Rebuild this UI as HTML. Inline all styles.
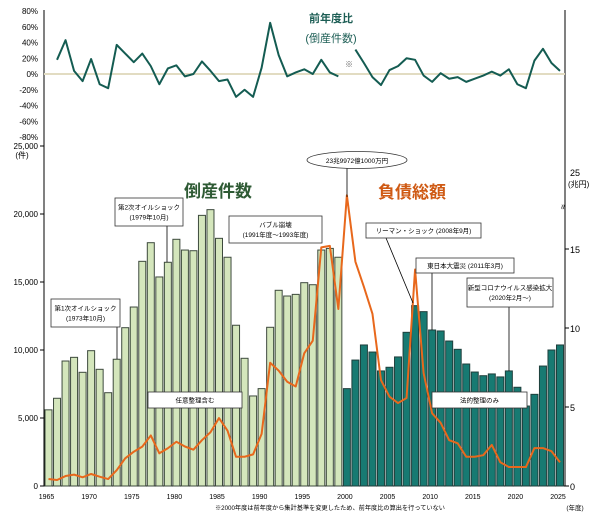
<!DOCTYPE html>
<html><head><meta charset="utf-8"><style>
body{margin:0;background:#fff;width:600px;height:520px;overflow:hidden}
svg{display:block;font-family:"Liberation Sans","Noto Sans CJK JP",sans-serif}
</style></head><body>
<svg id="c" width="600" height="520"></svg>
<script>
const years=[];for(let y=1965;y<=2025;y++)years.push(y);
const counts=[5600,6450,9190,9460,8360,9950,8580,6860,9320,11640,13160,16520,17890,15370,16450,18140,17350,17300,19900,20320,18210,16820,11820,9390,6620,7160,11670,14390,13970,14090,14950,14800,17350,17470,16820,7160,9260,10370,9850,8460,8730,9490,11300,13260,12820,11470,11400,10660,10050,8970,8380,8110,8240,8020,8460,7260,5880,6740,8820,10000,10370];
const debt=[0.44,0.38,0.63,0.72,0.55,0.76,0.59,0.44,1.0,1.75,2.17,2.49,3.2,2.07,2.39,2.8,2.5,2.3,2.9,3.4,4.3,3.5,1.85,1.85,2.0,3.3,7.8,7.3,6.6,6.3,8.4,9.2,15.1,15.2,11.2,23.99,14.2,12.6,10.9,6.7,5.65,5.25,5.57,13.7,7.15,4.6,4.0,2.9,2.7,1.85,1.85,1.95,2.6,1.5,1.2,1.2,1.2,2.4,2.4,2.2,1.5];
const pct=[null,18,43,4,-9,19,-13,-18,37,26,15,26,10,-13,7,11,-3,0,16,4,-9,-7,-29,-20,-29,8,65,24,-3,2,6,0,18,2,-3,null,31,14,-4,-14,5,10,20,18,-2,-10,1,-6,-4,-10,-6,-2,3,-2,6,-13,-18,17,32,14,4];
const leftTicks=[0,5000,10000,15000,20000,25000];
const leftTickLabels=["0","5,000","10,000","15,000","20,000","25,000"];
const rightTicks=[0,5,10,15];
const pctTicks=[80,60,40,20,0,-20,-40,-60,-80];
const xTicks=[1965,1970,1975,1980,1985,1990,1995,2000,2005,2010,2015,2020,2025];

const NS="http://www.w3.org/2000/svg",svg=document.getElementById('c');
function el(t,a,txt,p){const e=document.createElementNS(NS,t);for(const k in a)e.setAttribute(k,a[k]);if(txt!=null)e.textContent=txt;(p||svg).appendChild(e);return e;}
const X=y=>48.5+(y-1965)*8.525;
const YL=v=>486-v*0.0136;
const YR=v=>486-(v<=17?v:17+(v-17)*0.2)*15.8;
const YP=v=>74-v*0.7875;

// axes
let e=el('line',{x1:44,y1:10,x2:44,y2:486,stroke:'#000','stroke-width':1});

e=el('line',{x1:565,y1:10,x2:565,y2:486,stroke:'#000','stroke-width':1});

e=el('line',{x1:44,y1:486,x2:565,y2:486,stroke:'#000','stroke-width':1});

e=el('line',{x1:44,y1:74,x2:565,y2:74,stroke:'#e2dcc2','stroke-width':2});


pctTicks.forEach(t=>{e=el('text',{x:38,y:YP(t)+3,'font-size':8,'text-anchor':'end',fill:'#000'},t+'%');
});
leftTicks.forEach((t,i)=>{e=el('text',{x:38,y:YL(t)+3,'font-size':8,'text-anchor':'end'},leftTickLabels[i]);

el('line',{x1:40,y1:YL(t),x2:44,y2:YL(t),stroke:'#000'});});
e=el('text',{x:22,y:158,'font-size':8,'text-anchor':'middle'},'(件)');

rightTicks.forEach(t=>{e=el('text',{x:570,y:YR(t)+4,'font-size':9},String(t));

el('line',{x1:565,y1:YR(t),x2:569,y2:YR(t),stroke:'#000'});});
e=el('text',{x:570,y:176,'font-size':9},'25');

e=el('text',{x:568,y:187,'font-size':8},'(兆円)');

e=el('text',{x:563,y:210,'font-size':9,'text-anchor':'middle',transform:'rotate(90 563 207)'},'≈');

xTicks.forEach(t=>{e=el('text',{x:X(t)-2,y:499,'font-size':7,'text-anchor':'middle'},String(t));
});
e=el('text',{x:575,y:510,'font-size':6.5,'text-anchor':'middle'},'(年度)');

e=el('text',{x:330,y:510,'font-size':6.2,'text-anchor':'middle'},'※2000年度は前年度から集計基準を変更したため、前年度比の算出を行っていない');


// bars
years.forEach((y,i)=>{const top=YL(counts[i]);const old=y<2000;
e=el('rect',{x:X(y)-3.5,y:top,width:7,height:486-top,fill:old?'#d4e6bc':'#177a72',stroke:old?'#3d4a3d':'#1f3f3c','stroke-width':1});
});

// debt line
e=el('polyline',{points:years.map((y,i)=>X(y)+','+YR(debt[i])).join(' '),fill:'none',stroke:'#e8681c','stroke-width':2,'stroke-linejoin':'round'});


// pct line (break at nulls)
let seg=[];const segs=[];
years.forEach((y,i)=>{if(pct[i]==null){if(seg.length)segs.push(seg);seg=[];}else seg.push(X(y)+','+YP(pct[i]));});
if(seg.length)segs.push(seg);
segs.forEach(s=>{e=el('polyline',{points:s.join(' '),fill:'none',stroke:'#145c52','stroke-width':2,'stroke-linejoin':'round'});
});
e=el('text',{x:349,y:67,'font-size':8,'text-anchor':'middle',fill:'#666'},'※');


e=el('text',{x:331,y:22,'font-size':11,'font-weight':'bold','text-anchor':'middle',fill:'#1d5e55'},'前年度比');

e=el('text',{x:331,y:42,'font-size':11,'text-anchor':'middle',fill:'#1d5e55'},'(倒産件数)');

e=el('text',{x:218,y:197,'font-size':17,'font-weight':'bold','text-anchor':'middle',fill:'#2e5a34'},'倒産件数');

e=el('text',{x:412,y:198,'font-size':17,'font-weight':'bold','text-anchor':'middle',fill:'#cf5a14'},'負債総額');


// annotations
function box(name,x,y,w,h,lines,lx1,ly1,lx2,ly2){
 if(lx1!=null){const l=el('line',{x1:lx1,y1:ly1,x2:lx2,y2:ly2,stroke:'#000','stroke-width':0.8});
 }
 const r=el('rect',{x:x,y:y,width:w,height:h,fill:'#fff',stroke:'#333','stroke-width':0.8});
 
 lines.forEach((t,i)=>{const tx=el('text',{x:x+w/2,y:y+h/2+2.5+(i-(lines.length-1)/2)*10,'font-size':6.5,'text-anchor':'middle'},t);
 });
}
box('oil-shock-1',51,299,69,28,['第1次オイルショック','(1973年10月)'],117,327,117,359);
box('oil-shock-2',115,198,68,28,['第2次オイルショック','(1979年10月)'],167,226,167,262);
box('bubble-collapse',229,216,93,27,['バブル崩壊','(1991年度～1993年度)']);
box('voluntary-note',148,392,94,16,['任意整理含む']);
box('lehman-shock',366,223,115,15,['リーマン・ショック (2008年9月)'],386,238,413,303);
box('tohoku-quake',416,258,98,15,['東日本大震災 (2011年3月)'],432,273,432,330);
box('covid',467,278,86,29,['新型コロナウイルス感染拡大','(2020年2月～)'],509,307,509,371);
box('legal-note',432,392,95,16,['法的整理のみ']);
e=el('line',{x1:347,y1:168,x2:347,y2:197,stroke:'#000','stroke-width':0.8});

e=el('ellipse',{cx:357,cy:160,rx:50,ry:8.5,fill:'#fff',stroke:'#333','stroke-width':0.8});

e=el('text',{x:357,y:163,'font-size':6.5,'text-anchor':'middle'},'23兆9972億1000万円');

</script>
</body></html>
